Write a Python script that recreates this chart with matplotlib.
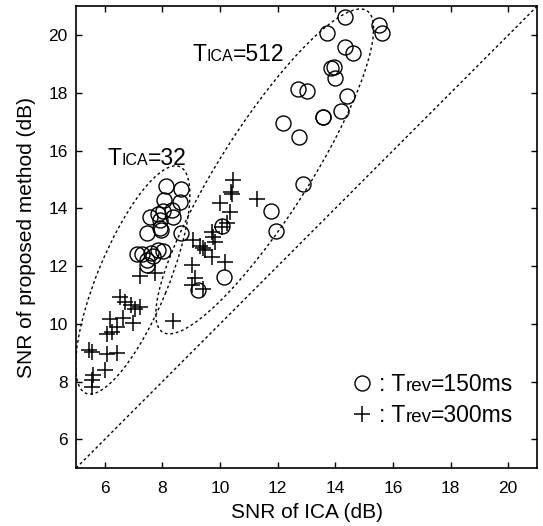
import matplotlib
matplotlib.use("Agg")
import matplotlib.pyplot as plt
from matplotlib.patches import Ellipse
from matplotlib.lines import Line2D
from matplotlib.offsetbox import (TextArea, HPacker, VPacker, DrawingArea,
                                  AnnotationBbox, AnchoredOffsetbox)

plt.rcParams["font.family"] = ["Liberation Sans", "DejaVu Sans"]

# Trev = 150 ms (circles)
circ_x = [8.12, 8.65, 8.05, 8.60, 8.32, 8.03, 7.86, 7.57, 8.38, 7.90, 7.90, 7.95,
          7.48, 8.63, 7.13, 7.28, 7.59, 7.68, 7.86, 8.03, 7.48, 7.45,
          14.34, 15.52, 15.61, 13.70, 14.32, 14.61, 13.96, 13.85, 13.99, 12.72,
          13.03, 14.40, 13.57, 13.57, 14.21, 12.18, 12.75, 12.87, 11.77, 11.94,
          10.15, 9.25, 10.06]
circ_y = [14.78, 14.68, 14.30, 14.21, 13.96, 13.92, 13.80, 13.71, 13.71, 13.60, 13.33, 13.25,
          13.13, 13.13, 12.41, 12.41, 12.44, 12.35, 12.56, 12.53, 12.21, 12.04,
          20.62, 20.36, 20.07, 20.06, 19.60, 19.37, 18.91, 18.86, 18.53, 18.12,
          18.08, 17.90, 17.16, 17.16, 17.37, 16.95, 16.46, 14.84, 13.92, 13.23,
          11.61, 11.17, 13.39]

# Trev = 300 ms (plus)
plus_x = [7.22, 7.74, 6.53, 6.70, 6.91, 7.05, 7.22, 6.18, 6.64, 6.99, 6.41, 6.24,
          6.07, 5.46, 5.54, 6.07, 6.41, 6.01, 5.60, 5.54, 5.54, 8.38,
          10.46, 10.37, 10.41, 11.27, 10.00, 10.35, 10.23, 10.06, 9.71, 9.77,
          9.83, 9.07, 9.31, 9.42, 9.48, 9.71, 10.17, 9.02, 9.13, 9.02, 9.42]
plus_y = [11.66, 11.75, 10.94, 10.77, 10.65, 10.50, 10.57, 10.16, 10.19, 10.04, 9.90, 9.72,
          9.64, 9.09, 9.03, 8.95, 9.00, 8.40, 8.22, 8.05, 7.82, 10.11,
          14.98, 14.58, 14.49, 14.31, 14.17, 13.89, 13.48, 13.36, 13.19, 13.02,
          12.84, 12.90, 12.69, 12.62, 12.56, 12.32, 12.15, 12.04, 11.58, 11.34, 11.19]

ticks = [6, 8, 10, 12, 14, 16, 18, 20]
lims = (5, 21)

DOT = (0, (2, 2))
BIG, SMALL = 16.5, 11.5
CIRC = dict(ls="none", marker="o", ms=10.8, mfc="none", mec="black", mew=1.0)
PLUS = dict(ls="none", marker="+", ms=11, mec="black", mew=1.1)

fig = plt.figure(figsize=(5.43, 5.26), dpi=100)
ax = fig.add_axes([0.140, 0.110, 0.849, 0.878])

ax.plot(lims, lims, color="black", lw=1.0, ls=DOT)

# group outlines (T_ICA = 32 and T_ICA = 512)
ax.add_patch(Ellipse((6.97, 11.52), 8.5, 2.45, angle=67.5, fill=False,
                     ec="black", lw=1.0, ls=DOT))
ax.add_patch(Ellipse((11.55, 15.28), 13.2, 3.1, angle=57.5, fill=False,
                     ec="black", lw=1.0, ls=DOT))

ax.plot(circ_x, circ_y, **CIRC)
ax.plot(plus_x, plus_y, **PLUS)


def mixed(parts):
    # text pieces of different size sharing one baseline
    return HPacker(children=[TextArea(s, textprops=dict(fontsize=fs)) for s, fs in parts],
                   align="baseline", pad=0, sep=0)


for (x, y), parts in [((9.04, 18.94), [("T", BIG), ("ICA", SMALL), ("=512", BIG)]),
                      ((6.10, 15.34), [("T", BIG), ("ICA", SMALL), ("=32", BIG)])]:
    ax.add_artist(AnnotationBbox(mixed(parts), (x, y), xycoords="data",
                                 box_alignment=(0, 0), frameon=False, pad=0))

# legend: marker + ": Trev=...ms"
rows = []
for style, val in [(CIRC, "=150ms"), (PLUS, "=300ms")]:
    da = DrawingArea(20, 11.8, 0, 0)
    da.add_artist(Line2D([8], [5.9], **style))
    rows.append(HPacker(children=[da, mixed([(": T", BIG), ("rev", 13.5), (val, BIG)])],
                        align="baseline", pad=0, sep=0))
leg = AnchoredOffsetbox(loc="lower left", child=VPacker(children=rows, align="left",
                                                         pad=0, sep=6),
                        pad=0, borderpad=0, frameon=False,
                        bbox_to_anchor=(0.597, 0.0887), bbox_transform=ax.transAxes)
ax.add_artist(leg)

ax.set_xlim(lims)
ax.set_ylim(lims)
ax.set_xticks(ticks)
ax.set_yticks(ticks)
ax.tick_params(direction="in", top=True, right=True, length=4, width=1.0,
               labelsize=12.5)
ax.tick_params(axis="x", pad=9)
ax.tick_params(axis="y", pad=6)
for s in ax.spines.values():
    s.set_linewidth(1.2)

ax.set_xlabel("SNR of ICA (dB)", fontsize=15, labelpad=5)
ax.set_ylabel("SNR of proposed method (dB)", fontsize=15, labelpad=9)

fig.savefig("out.png", dpi=100)
